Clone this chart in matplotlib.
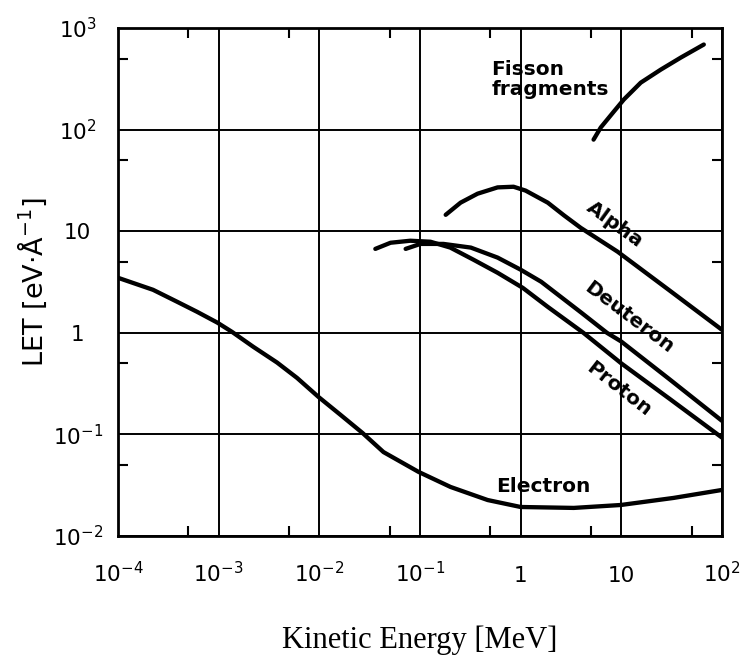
import matplotlib
matplotlib.use("Agg")
import matplotlib.pyplot as plt
from matplotlib.ticker import LogLocator, NullFormatter

# energies in MeV, LET in eV/Angstrom
electron_E = [1e-4, 2.23e-4, 3.87e-4, 6.1e-4, 9.7e-4, 1.36e-3, 2.2e-3, 3.8e-3, 6.0e-3,
              9.8e-3, 0.0162, 0.0268, 0.0434, 0.0966, 0.201, 0.47, 1.0, 3.37,
              9.9, 33, 100]
electron_LET = [3.48, 2.65, 2.02, 1.61, 1.26, 1.02, 0.73, 0.51, 0.36,
                0.234, 0.156, 0.1035, 0.067, 0.0428, 0.0304, 0.0226, 0.0193, 0.0189,
                0.0202, 0.0237, 0.0284]

proton_E = [0.036, 0.051, 0.080, 0.127, 0.2, 0.34, 0.59, 1.05, 1.86, 4.2, 10, 30, 100]
proton_LET = [6.7, 7.7, 8.06, 7.88, 6.9, 5.24, 3.9, 2.77, 1.8, 1.0, 0.5, 0.225, 0.093]

deuteron_E = [0.072, 0.101, 0.171, 0.32, 0.59, 1.0, 1.6, 4.0, 7.2, 10, 30, 100]
deuteron_LET = [6.7, 7.5, 7.5, 6.9, 5.5, 4.18, 3.18, 1.58, 1.0, 0.82, 0.35, 0.136]

alpha_E = [0.18, 0.253, 0.373, 0.59, 0.85, 1.12, 1.86, 2.7, 3.95, 9.2, 30, 100]
alpha_LET = [14.5, 19.1, 23.4, 27.0, 27.4, 25.1, 19.1, 14.3, 10.8, 6.28, 2.62, 1.07]

fission_E = [5.3, 6.25, 8.4, 10.6, 15.6, 24.7, 39, 66]
fission_LET = [79.7, 105, 150, 198, 290, 390, 512, 688]

xticks = [1e-4, 1e-3, 1e-2, 1e-1, 1, 10, 100]
xticklabels = ['$10^{-4}$', '$10^{-3}$', '$10^{-2}$', '$10^{-1}$', '1', '10', '$10^{2}$']
yticks = [1e-2, 1e-1, 1, 10, 100, 1000]
yticklabels = ['$10^{-2}$', '$10^{-1}$', '1', '10', '$10^{2}$', '$10^{3}$']

plt.rcParams['mathtext.default'] = 'regular'
plt.rcParams['font.family'] = 'DejaVu Sans'

fig = plt.figure(figsize=(7.45, 6.61), dpi=100)
ax = fig.add_axes([0.1584, 0.1891, 0.8107, 0.7685])

ax.set_xscale('log')
ax.set_yscale('log')
ax.set_xlim(1e-4, 1e2)
ax.set_ylim(1e-2, 1e3)

lw = 3.1
for xs, ys in [(electron_E, electron_LET), (proton_E, proton_LET),
               (deuteron_E, deuteron_LET), (alpha_E, alpha_LET),
               (fission_E, fission_LET)]:
    ax.plot(xs, ys, color='black', lw=lw, solid_capstyle='round', solid_joinstyle='round')

ax.grid(True, which='major', color='black', lw=1.4)
ax.set_axisbelow(True)
for s in ax.spines.values():
    s.set_linewidth(2.0)

ax.set_xticks(xticks)
ax.set_xticklabels(xticklabels)
ax.set_yticks(yticks)
ax.set_yticklabels(yticklabels)
ax.xaxis.set_minor_locator(LogLocator(base=10, subs=[5], numticks=20))
ax.yaxis.set_minor_locator(LogLocator(base=10, subs=[5], numticks=20))
ax.xaxis.set_minor_formatter(NullFormatter())
ax.yaxis.set_minor_formatter(NullFormatter())

ax.tick_params(which='major', length=0, labelsize=15.5)
ax.tick_params(axis='x', which='major', pad=33)
ax.tick_params(axis='y', which='major', pad=29)
ax.tick_params(which='minor', direction='in', length=7, width=1.5,
               top=True, right=True)
for lab in ax.get_xticklabels():
    lab.set_va('baseline')
for lab in ax.get_yticklabels():
    lab.set_ha('center')

ax.set_ylabel('LET [eV·Å$^{-1}$]', fontsize=19.5, va='center')
ax.yaxis.set_label_coords(-0.142, 0.5)
ax.set_xlabel('Kinetic Energy [MeV]', fontsize=22, family='Liberation Serif', va='baseline')
ax.xaxis.set_label_coords(0.5, -0.2205)

tkw = dict(fontsize=14.5, fontweight='bold', color='black')
ax.text(0.51, 490, 'Fisson\nfragments', ha='left', va='top', linespacing=1.1, **tkw)
ax.text(8.6, 11.6, 'Alpha', ha='center', va='center', rotation=-36, **tkw)
ax.text(11.9, 1.4, 'Deuteron', ha='center', va='center', rotation=-37, **tkw)
ax.text(9.4, 0.28, 'Proton', ha='center', va='center', rotation=-38, **tkw)
ax.text(1.69, 0.031, 'Electron', ha='center', va='center', **tkw)

fig.savefig('out.png', dpi=100)
plt.close(fig)
